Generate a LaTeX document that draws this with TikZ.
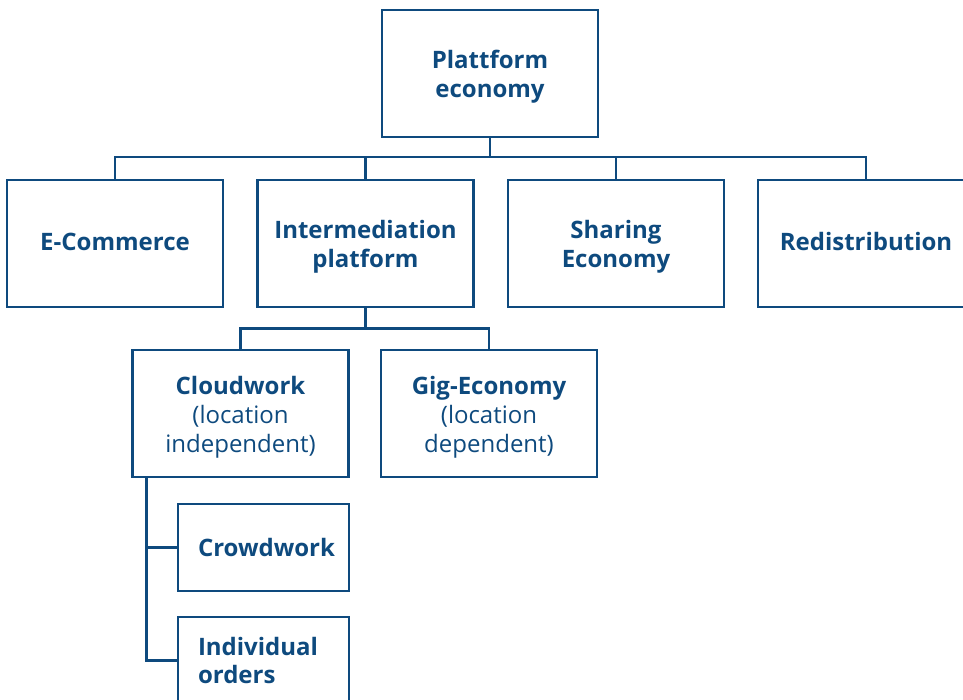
\documentclass[tikz,border=0pt]{standalone}
\usepackage{fontspec}
\setmainfont{Open Sans}
\definecolor{navy}{HTML}{0E4A7E}
% invisible struts that move a text block inside its box
\newcommand\tstrut[1]{\rule{0pt}{#1}}
\newcommand\dstrut[1]{\rule[-#1]{0pt}{#1}}
\begin{document}
\begin{tikzpicture}[x=1pt,y=-1pt,
  box/.style={draw=navy, line width=2.4pt, rectangle, inner sep=0pt,
    text=navy, align=center, font=\fontsize{24}{28.8}\selectfont},
  bigbox/.style={box, minimum width=216pt, minimum height=127pt},
  smallbox/.style={box, minimum height=87pt, text width=131pt, inner xsep=20pt, align=flush left},
  conn/.style={draw=navy, line width=2.4pt}]
\useasboundingbox (0,0) rectangle (963,700);
\clip (0,0) rectangle (963,700);
% top level
\node[bigbox] (top) at (490,73.5) {\tstrut{24pt}\textbf{Plattform}\\\textbf{economy}};
% second level
\node[bigbox] (ecom)  at (115,243.5)   {\textbf{E-Commerce}\dstrut{4pt}};
\node[bigbox] (inter) at (365.5,243.5) {\tstrut{24pt}\textbf{Intermediation}\\\textbf{platform}};
\node[bigbox] (share) at (616,243.5)   {\tstrut{24pt}\textbf{Sharing}\\\textbf{Economy}};
\node[bigbox] (redis) at (866,243.5)   {\textbf{Redistribution}\dstrut{4pt}};
% third level
\node[bigbox] (cloud) at (240.5,413.5) {\tstrut{26pt}\textbf{Cloudwork}\\(location\\independent)};
\node[bigbox] (gig)   at (489,413.5)   {\tstrut{26pt}\textbf{Gig-Economy}\\(location\\dependent)};
% fourth level
\node[smallbox] (crowd) at (263.5,547.5) {\textbf{Crowdwork}};
\node[smallbox] (indiv) at (263.5,660.5) {\textbf{Individual}\\\textbf{orders}};
% connectors
\draw[conn] (top.south) -- ++(0,19) -| (ecom.north);
\draw[conn] (top.south) -- ++(0,19) -| (inter.north);
\draw[conn] (top.south) -- ++(0,19) -| (share.north);
\draw[conn] (top.south) -- ++(0,19) -| (redis.north);
\draw[conn] (inter.south) -- ++(0,20.5) -| (cloud.north);
\draw[conn] (inter.south) -- ++(0,20.5) -| (gig.north);
\draw[conn] ([xshift=15pt]cloud.south west) |- (crowd.west);
\draw[conn] ([xshift=15pt]cloud.south west) |- (indiv.west);
\end{tikzpicture}
\end{document}
